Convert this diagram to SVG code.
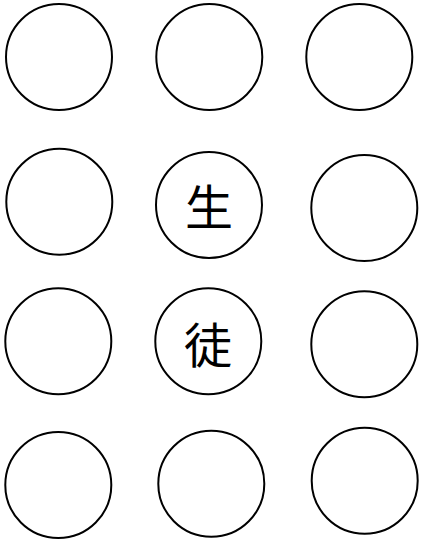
<svg xmlns="http://www.w3.org/2000/svg" width="423" height="542" viewBox="0 0 423 542">
<style>
.n{fill:#fff;stroke:#000;stroke-width:2}
.t{font-family:"Noto Sans CJK JP","Noto Sans CJK SC",sans-serif;font-size:48px;fill:#000;text-anchor:middle;dominant-baseline:central}
</style>
<rect width="423" height="542" fill="#fff"/>
<g id="connectors"></g>
<g id="n1"><circle class="n" cx="59" cy="57" r="53"/></g>
<g id="n2"><circle class="n" cx="209.3" cy="57" r="53"/></g>
<g id="n3"><circle class="n" cx="359.3" cy="57" r="53"/></g>
<g id="n4"><circle class="n" cx="59.3" cy="201.7" r="53"/></g>
<g id="n5"><circle class="n" cx="209" cy="205" r="53"/><text class="t" x="209" y="204">生</text></g>
<g id="n6"><circle class="n" cx="364.3" cy="208" r="53"/></g>
<g id="n7"><circle class="n" cx="58.3" cy="341.3" r="53"/></g>
<g id="n8"><circle class="n" cx="208.3" cy="341.3" r="53"/><text class="t" x="208" y="342">徒</text></g>
<g id="n9"><circle class="n" cx="364.3" cy="344.3" r="53"/></g>
<g id="n10"><circle class="n" cx="58.3" cy="485" r="53"/></g>
<g id="n11"><circle class="n" cx="211.3" cy="483.7" r="53"/></g>
<g id="n12"><circle class="n" cx="364.7" cy="480.7" r="53"/></g>
</svg>
